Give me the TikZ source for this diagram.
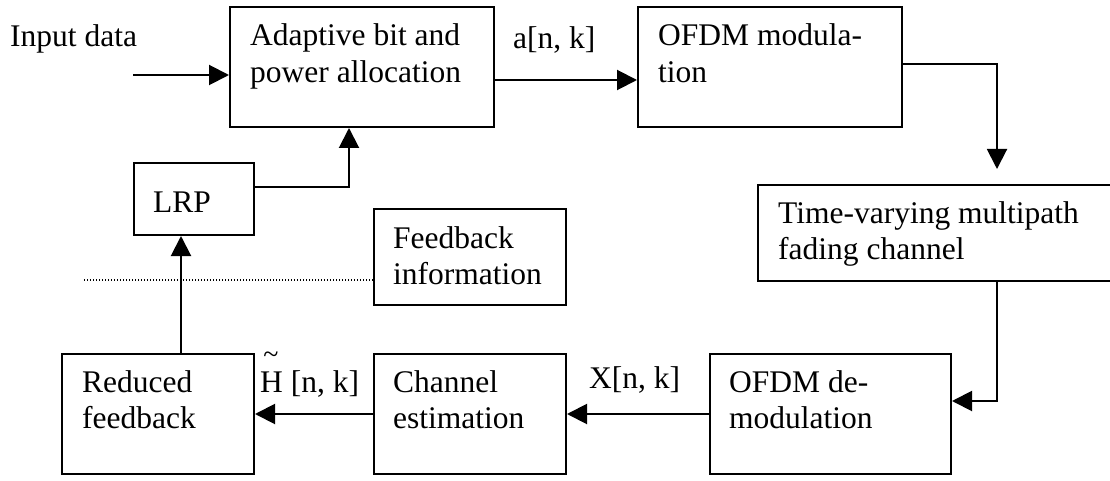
\documentclass[tikz,border=0pt]{standalone}
\usepackage{fontspec}
\setmainfont{Liberation Serif}
\usetikzlibrary{arrows.meta}
\begin{document}
\begin{tikzpicture}[x=1pt,y=-1pt,
  box/.style={draw,line width=2pt,inner sep=0pt,anchor=north west},
  txt/.style={inner sep=0pt,anchor=base west,align=left,
    font=\fontsize{31.5}{36.5}\selectfont},
  arr/.style={line width=2pt,-{Triangle[length=20pt,width=20pt]}}]
\clip (0,0) rectangle (1110,481);
\fill[white] (0,0) rectangle (1110,481);

% blocks
\node[box,minimum width=264pt,minimum height=120pt] (adapt) at (229,6) {};
\node[box,minimum width=264pt,minimum height=120pt] (mod)   at (637,6) {};
\node[box,minimum width=120pt,minimum height=72pt]  (lrp)   at (133,162) {};
\node[box,minimum width=420pt,minimum height=96pt]  (time)  at (757,184) {};
\node[box,minimum width=192pt,minimum height=96pt]  (fbi)   at (373,208) {};
\node[box,minimum width=192pt,minimum height=120pt] (red)   at (61,353) {};
\node[box,minimum width=192pt,minimum height=120pt] (chan)  at (373,353) {};
\node[box,minimum width=241pt,minimum height=120pt] (demod) at (709,353) {};

% block texts (two-line texts are placed by the baseline of their last line)
\node[txt] (adaptT) at (250,82.5)  {Adaptive bit and\\power allocation};
\node[txt] (modT)   at (658,82.5)  {OFDM modula-\\tion};
\node[txt] (lrpT)   at (153,212)   {LRP};
\node[txt] (timeT)  at (778,259.5) {Time-varying multipath\\fading channel};
\node[txt] (fbiT)   at (393,284.5) {Feedback\\information};
\node[txt] (redT)   at (82,428.5)  {Reduced\\feedback};
\node[txt] (chanT)  at (393,428.5) {Channel\\estimation};
\node[txt] (demodT) at (729,428.5) {OFDM de-\\modulation};

% signal labels
\node[txt] (inT) at (10,47)  {Input data};
\node[txt] (aT)  at (513,49) {a[n, k]};
\node[txt] (xT)  at (589,388) {X[n, k]};
\node[txt] (hT)  at (260,392) {H [n, k]};
\node[inner sep=0pt,font=\fontsize{28}{28}\selectfont] (tilde) at (271,358) {\textasciitilde};

% helper coordinates for the routed connectors
\coordinate (in)  at (133,75);
\coordinate (dx)  at (997,0);
\coordinate (ux)  at (181,0);
\coordinate (lx)  at (349,0);
\coordinate (dl)  at (84,280);

% connectors
\draw[arr] (in) -- (in -| adapt.west);
\draw[arr] ([yshift=-13pt]adapt.east) -- ([yshift=-13pt]mod.west);
\draw[arr,shorten >=15pt] ([yshift=3pt]mod.east) -| (dx |- time.north);
\draw[arr] (dx |- time.south) |- ([yshift=13pt]demod.east);
\draw[arr] (demod.west) -- (chan.east);
\draw[arr] (chan.west) -- (red.east);
\draw[arr] (ux |- red.north) -- (ux |- lrp.south);
\draw[arr] ([yshift=12pt]lrp.east) -| (lx |- adapt.south);
\draw[line width=1.2pt,dash pattern=on 1.2pt off 1.8pt] (dl) -- (dl -| fbi.west);
\end{tikzpicture}
\end{document}
